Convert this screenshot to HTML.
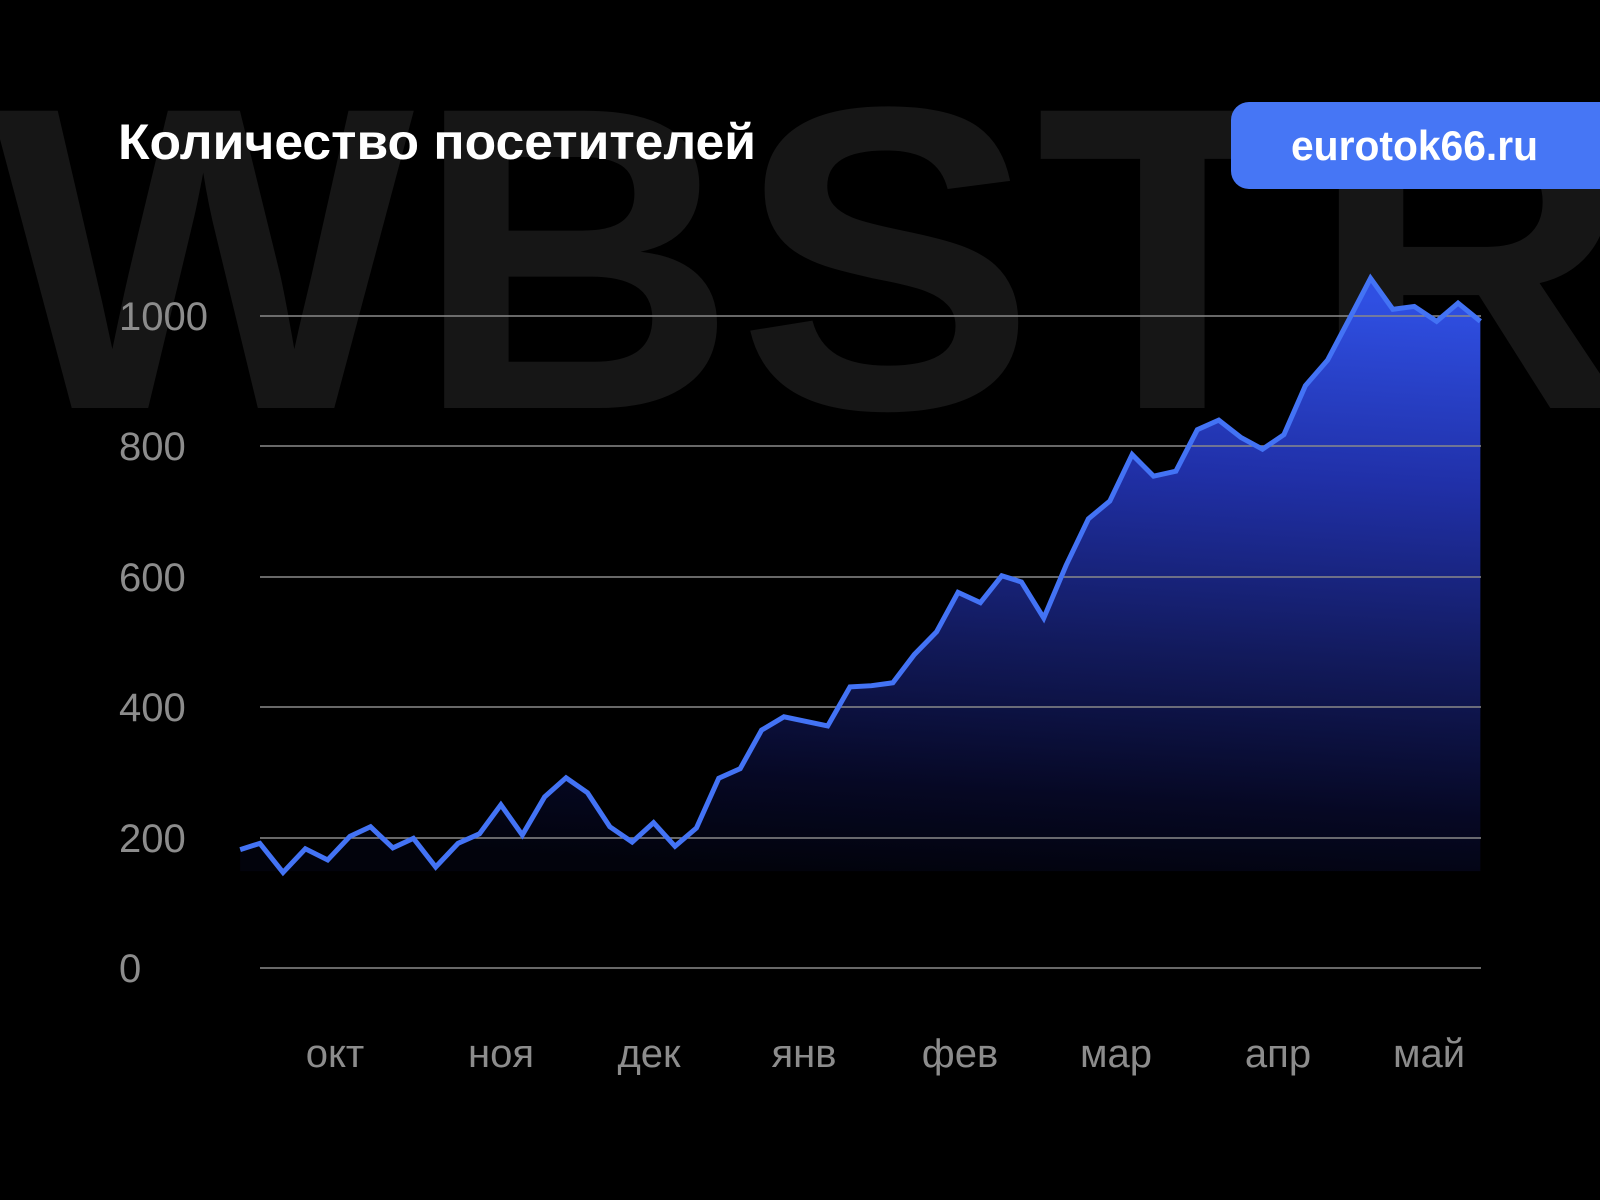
<!DOCTYPE html>
<html><head><meta charset="utf-8"><style>
html,body{margin:0;padding:0;background:#000;}
svg{display:block;}
</style></head><body>
<svg width="1600" height="1200" viewBox="0 0 1600 1200" xmlns="http://www.w3.org/2000/svg">
<defs>
<linearGradient id="fg" x1="0.6" y1="0" x2="0.48" y2="1">
<stop offset="0" stop-color="#2f4fe2"/>
<stop offset="0.3" stop-color="#2030a8"/>
<stop offset="0.6" stop-color="#121a5c"/>
<stop offset="0.85" stop-color="#060824"/>
<stop offset="1" stop-color="#02030c"/>
</linearGradient>
</defs>
<rect width="1600" height="1200" fill="#000"/>
<text x="-8" y="408" font-family="Liberation Sans, sans-serif" font-weight="bold" font-size="432" fill="#161616" textLength="1640" lengthAdjust="spacingAndGlyphs">WBSTR</text>
<text x="118" y="159" font-family="Liberation Sans, sans-serif" font-weight="bold" font-size="50" fill="#fff" textLength="638" lengthAdjust="spacingAndGlyphs">Количество посетителей</text>
<rect x="1231" y="102" width="400" height="87" rx="18" fill="#4676f5"/>
<text x="1291" y="160" font-family="Liberation Sans, sans-serif" font-weight="bold" font-size="42" fill="#fff" textLength="247" lengthAdjust="spacingAndGlyphs">eurotok66.ru</text>
<g transform="translate(200,250) scale(0.89286,0.41494)">
<path fill="url(#fg)" d="M45,1445 L67,1430 L93,1500 L118,1443 L143,1470 L168,1413 L191,1390 L216,1441 L239,1418 L264,1487 L289,1430 L313,1407 L337,1337 L361,1410 L386,1318 L410,1272 L434,1308 L459,1390 L484,1427 L508,1380 L532,1437 L556,1393 L581,1273 L605,1250 L629,1157 L654,1125 L703,1147 L728,1053 L752,1050 L776,1043 L800,975 L825,920 L849,825 L874,850 L898,785 L920,800 L945,887 L970,760 L995,648 L1019,605 L1044,493 L1068,545 L1093,533 L1117,433 L1141,410 L1166,452 L1190,480 L1214,445 L1238,327 L1263,265 L1287,167 L1311,68 L1336,143 L1360,136 L1385,172 L1409,128 L1434,172 L1434,1497 L45,1497 Z"/>
</g>
<g stroke="#8a8a8a" stroke-width="1.5">
<line x1="260" y1="316" x2="1481" y2="316"/>
<line x1="260" y1="446" x2="1481" y2="446"/>
<line x1="260" y1="577" x2="1481" y2="577"/>
<line x1="260" y1="707" x2="1481" y2="707"/>
<line x1="260" y1="838" x2="1481" y2="838"/>
<line x1="260" y1="968" x2="1481" y2="968"/>
</g>
<g font-family="Liberation Sans, sans-serif" font-size="40" fill="#8c8c8c">
<text x="119" y="330">1000</text>
<text x="119" y="460">800</text>
<text x="119" y="591">600</text>
<text x="119" y="721">400</text>
<text x="119" y="852">200</text>
<text x="119" y="982">0</text>
</g>
<g font-family="Liberation Sans, sans-serif" font-size="40" fill="#8c8c8c" text-anchor="middle">
<text x="335" y="1067">окт</text>
<text x="501" y="1067">ноя</text>
<text x="649" y="1067">дек</text>
<text x="804" y="1067">янв</text>
<text x="960" y="1067">фев</text>
<text x="1116" y="1067">мар</text>
<text x="1278" y="1067">апр</text>
<text x="1429" y="1067">май</text>
</g>
<g transform="translate(200,250) scale(0.89286,0.41494)">
<path fill="none" stroke="#4373f5" stroke-width="5" stroke-linejoin="miter" vector-effect="non-scaling-stroke" d="M45,1445 L67,1430 L93,1500 L118,1443 L143,1470 L168,1413 L191,1390 L216,1441 L239,1418 L264,1487 L289,1430 L313,1407 L337,1337 L361,1410 L386,1318 L410,1272 L434,1308 L459,1390 L484,1427 L508,1380 L532,1437 L556,1393 L581,1273 L605,1250 L629,1157 L654,1125 L703,1147 L728,1053 L752,1050 L776,1043 L800,975 L825,920 L849,825 L874,850 L898,785 L920,800 L945,887 L970,760 L995,648 L1019,605 L1044,493 L1068,545 L1093,533 L1117,433 L1141,410 L1166,452 L1190,480 L1214,445 L1238,327 L1263,265 L1287,167 L1311,68 L1336,143 L1360,136 L1385,172 L1409,128 L1434,172"/>
</g>
</svg>
</body></html>
